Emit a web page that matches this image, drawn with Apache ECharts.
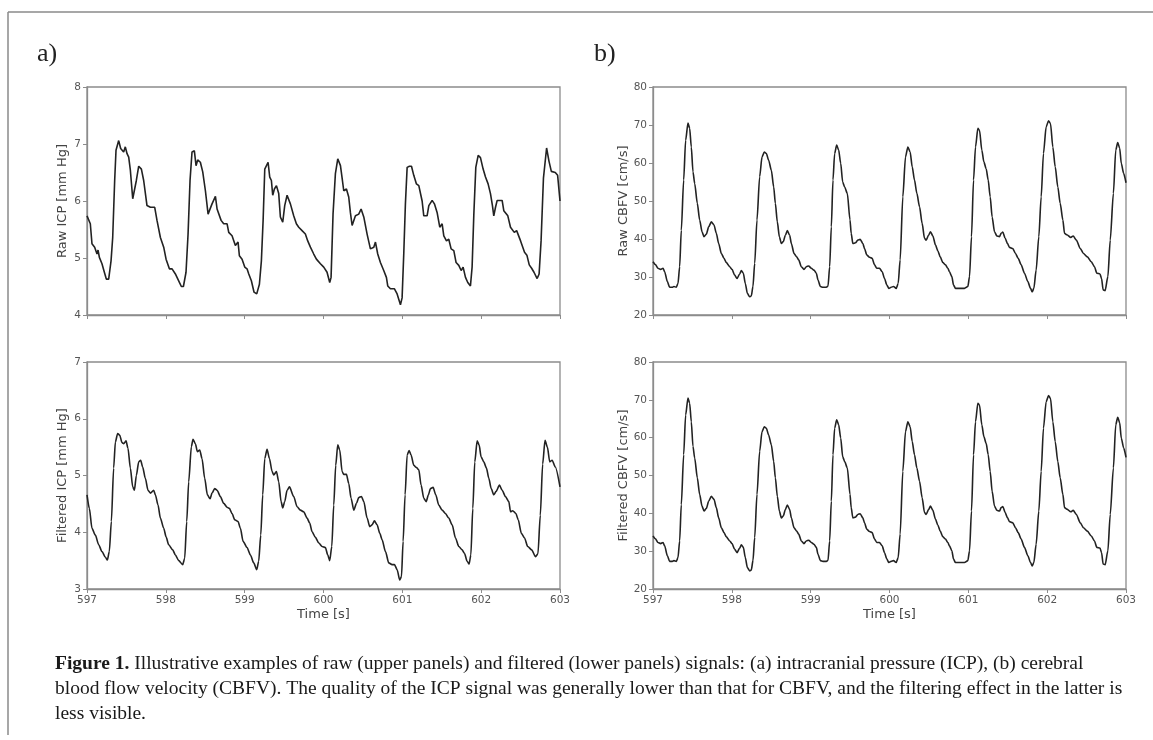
<!DOCTYPE html>
<html><head><meta charset="utf-8">
<script src="https://cdn.jsdelivr.net/npm/echarts@6/dist/echarts.min.js"></script>
<style>html,body{margin:0;padding:0;background:#fff}#c{width:1153px;height:740px}</style>
</head><body><div id="c"></div>
<script>
// ---- Data (time in s) ----
const timeRange = [597, 603];
const icpRawRange = [4, 8];
const icpFiltRange = [3, 7];
const cbfvRange = [20, 80];

const icpRawT = [597.000,597.042,597.063,597.097,597.127,597.140,597.157,597.190,597.212,597.224,597.245,597.275,597.305,597.326,597.351,597.368,597.402,597.427,597.444,597.465,597.486,597.508,597.529,597.550,597.580,597.601,597.626,597.656,597.690,597.719,597.761,597.804,597.859,597.888,597.931,597.973,598.003,598.024,598.045,598.079,598.121,598.163,598.197,598.223,598.256,598.282,598.307,598.332,598.362,598.383,598.404,598.438,598.468,598.502,598.536,598.561,598.586,598.629,598.650,598.671,598.701,598.734,598.777,598.798,598.840,598.882,598.916,598.933,598.967,599.001,599.030,599.052,599.085,599.119,599.153,599.187,599.212,599.234,599.255,599.297,599.318,599.339,599.356,599.377,599.403,599.432,599.453,599.483,599.508,599.538,599.580,599.622,599.656,599.686,599.728,599.770,599.800,599.834,599.876,599.910,599.961,600.003,600.045,600.079,600.096,600.121,600.151,600.181,600.215,600.240,600.257,600.291,600.320,600.341,600.363,600.384,600.405,600.447,600.477,600.511,600.553,600.595,600.638,600.659,600.688,600.722,600.764,600.798,600.815,600.849,600.900,600.934,600.976,600.997,601.018,601.039,601.061,601.090,601.116,601.145,601.179,601.209,601.230,601.251,601.272,601.314,601.336,601.378,601.407,601.441,601.475,601.505,601.526,601.560,601.589,601.619,601.653,601.682,601.716,601.746,601.771,601.801,601.830,601.864,601.885,601.907,601.932,601.962,601.991,602.025,602.055,602.088,602.118,602.143,602.160,602.182,602.203,602.266,602.287,602.338,602.372,602.420,602.450,602.500,602.550,602.580,602.610,602.640,602.670,602.710,602.735,602.760,602.790,602.830,602.860,602.890,602.940,602.970,603.000];
const icpRawV = [5.74,5.60,5.25,5.19,5.07,5.14,5.01,4.90,4.79,4.81,4.63,4.63,4.95,5.36,6.36,6.89,7.06,6.92,6.95,6.86,6.95,6.83,6.77,6.54,6.04,6.04,6.36,6.61,6.56,6.36,5.92,5.89,5.89,5.66,5.36,5.19,4.98,5.01,4.81,4.81,4.72,4.60,4.50,4.50,4.75,5.42,6.36,6.86,6.88,6.62,6.72,6.68,6.51,6.18,5.77,5.80,5.95,6.08,5.86,5.89,5.66,5.60,5.60,5.45,5.39,5.22,5.28,5.04,4.98,4.84,4.81,4.72,4.60,4.40,4.37,4.54,4.95,5.66,6.56,6.68,6.42,6.36,6.10,6.21,6.27,6.13,5.72,5.63,5.92,6.10,5.95,5.74,5.60,5.54,5.48,5.42,5.30,5.19,5.07,4.98,4.90,4.84,4.75,4.57,4.66,5.77,6.48,6.74,6.62,6.36,6.18,6.21,6.07,5.80,5.57,5.57,5.74,5.77,5.86,5.72,5.42,5.16,5.19,5.28,5.07,4.92,4.78,4.66,4.51,4.46,4.46,4.37,4.18,4.30,5.07,5.95,6.59,6.61,6.61,6.45,6.30,6.27,6.24,6.00,5.74,5.74,5.92,6.01,5.95,5.80,5.54,5.60,5.39,5.30,5.33,5.16,5.13,4.92,4.87,4.78,4.84,4.66,4.57,4.51,4.84,5.77,6.59,6.80,6.76,6.56,6.42,6.30,6.13,5.92,5.74,5.89,6.01,6.01,5.83,5.74,5.54,5.45,5.48,5.30,5.10,5.05,4.88,4.82,4.75,4.64,4.72,5.30,6.40,6.93,6.70,6.52,6.50,6.45,6.00];

const icpFiltT = [597.000,597.030,597.063,597.106,597.148,597.190,597.233,597.258,597.283,597.309,597.338,597.360,597.389,597.415,597.444,597.465,597.495,597.520,597.550,597.580,597.601,597.626,597.656,597.681,597.706,597.740,597.774,597.804,597.846,597.867,597.901,597.931,597.973,598.003,598.036,598.087,598.121,598.163,598.214,598.239,598.265,598.290,598.324,598.345,598.375,598.400,598.430,598.459,598.493,598.527,598.561,598.586,598.620,598.650,598.692,598.734,598.777,598.806,598.840,598.874,598.916,598.946,598.980,599.030,599.073,599.115,599.153,599.178,599.204,599.229,599.255,599.284,599.314,599.348,599.369,599.403,599.432,599.462,599.483,599.508,599.538,599.568,599.622,599.665,599.707,599.749,599.792,599.825,599.855,599.897,599.940,599.982,600.024,600.054,600.079,600.105,600.130,600.155,600.181,600.206,600.236,600.257,600.291,600.320,600.350,600.384,600.418,600.447,600.481,600.511,600.553,600.587,600.616,600.646,600.680,600.714,600.743,600.786,600.828,600.870,600.900,600.934,600.967,600.989,601.010,601.035,601.061,601.086,601.111,601.145,601.179,601.209,601.238,601.272,601.302,601.331,601.357,601.390,601.424,601.462,601.505,601.547,601.589,601.632,601.674,601.716,601.758,601.788,601.822,601.847,601.869,601.894,601.919,601.949,601.974,601.999,602.033,602.067,602.097,602.127,602.160,602.190,602.232,602.266,602.308,602.351,602.372,602.400,602.440,602.470,602.510,602.550,602.590,602.640,602.690,602.720,602.750,602.780,602.810,602.840,602.870,602.900,602.940,603.000];
const icpFiltV = [4.66,4.42,4.07,3.95,3.78,3.66,3.56,3.51,3.66,4.19,5.13,5.59,5.74,5.71,5.58,5.56,5.61,5.48,5.13,4.80,4.74,5.00,5.24,5.27,5.15,4.95,4.74,4.69,4.74,4.66,4.48,4.25,4.07,3.92,3.78,3.69,3.60,3.50,3.43,3.54,4.19,4.89,5.51,5.64,5.56,5.42,5.45,5.30,4.95,4.66,4.59,4.69,4.77,4.74,4.63,4.51,4.44,4.42,4.33,4.22,4.19,4.07,3.84,3.73,3.60,3.46,3.34,3.49,3.95,4.66,5.30,5.46,5.30,5.07,5.01,5.07,4.89,4.54,4.43,4.54,4.74,4.80,4.63,4.45,4.39,4.36,4.25,4.16,4.01,3.91,3.81,3.75,3.73,3.60,3.50,3.75,4.48,5.18,5.54,5.45,5.07,5.02,5.02,4.86,4.60,4.39,4.51,4.61,4.63,4.54,4.25,4.10,4.13,4.20,4.13,3.98,3.87,3.66,3.46,3.43,3.43,3.34,3.16,3.22,3.84,4.66,5.36,5.44,5.36,5.18,5.14,5.10,4.83,4.60,4.54,4.66,4.77,4.79,4.66,4.48,4.39,4.33,4.25,4.13,3.90,3.75,3.69,3.63,3.49,3.44,3.60,4.42,5.24,5.61,5.54,5.33,5.24,5.13,4.95,4.77,4.66,4.72,4.83,4.74,4.63,4.54,4.36,4.38,4.33,4.22,3.98,3.90,3.75,3.69,3.57,3.62,4.30,5.20,5.62,5.50,5.24,5.27,5.15,4.80];

const cbfvT = [597.000,597.030,597.063,597.097,597.127,597.148,597.182,597.211,597.245,597.266,597.296,597.317,597.338,597.359,597.389,597.414,597.444,597.465,597.486,597.507,597.529,597.562,597.592,597.622,597.647,597.677,597.706,597.740,597.774,597.803,597.833,597.867,597.901,597.930,597.973,598.002,598.036,598.066,598.099,598.121,598.146,598.171,598.197,598.226,598.247,598.268,598.290,598.319,598.353,598.383,598.412,598.438,598.467,598.501,598.531,598.552,598.577,598.603,598.628,598.653,598.679,598.704,598.734,598.755,598.789,598.822,598.848,598.882,598.915,598.945,598.975,599.008,599.042,599.072,599.093,599.123,599.156,599.199,599.220,599.241,599.262,599.283,599.304,599.330,599.355,599.381,599.406,599.431,599.465,599.499,599.514,599.535,599.569,599.598,599.628,599.662,599.683,599.712,599.746,599.780,599.810,599.839,599.873,599.907,599.937,599.966,599.992,600.021,600.051,600.085,600.110,600.135,600.169,600.203,600.233,600.262,600.288,600.317,600.347,600.381,600.414,600.444,600.465,600.495,600.520,600.550,600.584,600.613,600.643,600.677,600.710,600.740,600.761,600.791,600.812,600.837,600.888,600.951,600.994,601.015,601.040,601.066,601.091,601.121,601.142,601.171,601.197,601.226,601.252,601.277,601.302,601.332,601.362,601.395,601.416,601.438,601.467,601.497,601.522,601.564,601.598,601.632,601.670,601.712,601.755,601.789,601.810,601.831,601.860,601.894,601.924,601.953,601.987,602.017,602.042,602.072,602.102,602.135,602.165,602.199,602.220,602.250,602.300,602.330,602.370,602.420,602.460,602.510,602.560,602.600,602.630,602.670,602.690,602.710,602.735,602.770,602.800,602.840,602.870,602.895,602.920,602.940,602.970,603.000];
const cbfvV = [34.0,33.3,32.3,32.0,32.3,31.4,28.8,27.3,27.3,27.5,27.3,28.3,32.7,42.3,55.5,66.0,70.5,69.1,64.2,57.7,54.6,49.4,45.0,41.9,40.6,41.3,43.2,44.5,43.7,41.5,38.8,36.2,34.9,33.8,32.7,32.0,30.5,29.6,30.8,31.7,31.0,28.3,25.7,24.8,25.0,27.5,33.6,45.0,56.4,61.6,62.9,62.5,60.7,58.1,53.7,49.4,44.5,40.6,38.8,39.3,41.0,42.2,41.0,38.8,36.2,35.3,34.5,32.7,32.0,32.7,32.9,32.3,31.8,31.0,29.2,27.5,27.3,27.3,27.6,32.7,43.2,55.5,62.5,64.7,63.4,59.9,55.0,53.7,52.0,45.0,41.5,38.8,39.0,39.7,39.9,38.8,37.5,35.8,35.2,34.9,33.2,32.3,32.3,31.4,29.6,27.9,27.0,27.3,27.5,27.0,28.3,34.5,51.1,61.6,64.2,62.9,59.0,55.5,52.0,48.5,44.1,40.2,39.7,41.0,41.9,40.8,38.4,36.9,35.3,33.8,33.2,32.3,31.4,30.1,27.9,27.0,27.0,27.0,27.5,30.1,40.6,55.5,64.2,69.1,68.6,63.4,60.3,58.5,55.5,51.1,45.8,41.9,40.8,40.6,41.5,41.8,40.2,38.8,37.8,37.5,36.2,34.9,33.2,31.0,28.8,27.0,26.1,27.0,31.8,40.6,51.1,62.5,69.5,71.1,70.4,64.2,59.0,53.7,49.4,45.0,41.5,41.1,40.4,40.8,39.7,37.5,36.2,35.3,34.0,32.7,31.0,30.8,29.6,26.6,26.4,30.1,39.7,52.0,63.4,65.4,63.9,59.9,57.3,54.8];
// Filtered CBFV is visually identical to the raw trace in the figure
const cbfvFiltT = cbfvT;
const cbfvFiltV = cbfvV;

const panelLabels = ['a)', 'b)'];
const yNames = ['Raw ICP [mm Hg]', 'Raw CBFV [cm/s]', 'Filtered ICP [mm Hg]', 'Filtered CBFV [cm/s]'];
const xName = 'Time [s]';
const captionLines = [
  'Illustrative examples of raw (upper panels) and filtered (lower panels) signals: (a) intracranial pressure (ICP), (b) cerebral',
  'blood flow velocity (CBFV). The quality of the ICP signal was generally lower than that for CBFV, and the filtering effect in the latter is',
  'less visible.'
];
const captionLead = 'Figure 1.';

// ---- Build ----
const zip = (t, v) => t.map((x, i) => [x, v[i]]);
const AX = '#8c8c8c', TX = '#555';
const SANS = '"DejaVu Sans", sans-serif';
const SERIF = '"Liberation Serif", "DejaVu Serif", serif';
const CAP = 19.5;

const grids = [
  {left: 87, top: 87, width: 473, height: 228},
  {left: 653, top: 87, width: 473, height: 228},
  {left: 87, top: 362, width: 473, height: 227},
  {left: 653, top: 362, width: 473, height: 227}
].map(g => Object.assign(g, {show: true, borderColor: AX, borderWidth: 1.3, backgroundColor: 'transparent'}));

const xAxes = [0,1,2,3].map(i => ({
  type: 'value', gridIndex: i, min: timeRange[0], max: timeRange[1], interval: 1,
  axisLine: {show: true, lineStyle: {color: AX, width: 1.3}},
  axisTick: {show: true, inside: false, length: 4, lineStyle: {color: AX}},
  axisLabel: {show: i >= 2, color: TX, fontFamily: SANS, fontSize: 10.5, margin: 6, showMinLabel: true, showMaxLabel: true},
  splitLine: {show: false},
  name: i >= 2 ? xName : '', nameLocation: 'middle', nameGap: 19,
  nameTextStyle: {color: '#444', fontFamily: SANS, fontSize: 13}
}));

const yRanges = [icpRawRange, cbfvRange, icpFiltRange, cbfvRange];
const yAxes = [0,1,2,3].map(i => ({
  type: 'value', gridIndex: i, min: yRanges[i][0], max: yRanges[i][1], interval: i % 2 ? 10 : 1,
  axisLine: {show: true, lineStyle: {color: AX, width: 1.3}},
  axisTick: {show: true, inside: false, length: 4, lineStyle: {color: AX}},
  axisLabel: {color: TX, fontFamily: SANS, fontSize: 10.5, margin: 6, showMinLabel: true, showMaxLabel: true},
  splitLine: {show: false},
  name: yNames[i], nameLocation: 'middle', nameRotate: 90, nameGap: i % 2 ? 23 : 18,
  nameTextStyle: {color: '#444', fontFamily: SANS, fontSize: 13}
}));

const dataSets = [zip(icpRawT, icpRawV), zip(cbfvT, cbfvV), zip(icpFiltT, icpFiltV), zip(cbfvFiltT, cbfvFiltV)];
const series = dataSets.map((d, i) => ({
  type: 'line', xAxisIndex: i, yAxisIndex: i, data: d, showSymbol: false,
  smooth: i === 0 ? false : 0.25, smoothMonotone: 'x',
  lineStyle: {color: '#222', width: 1.6}, silent: true
}));

const graphic = [
  {type: 'line', shape: {x1: 8, y1: 12, x2: 1153, y2: 12}, style: {stroke: '#8a8a8a', lineWidth: 1.5}},
  {type: 'line', shape: {x1: 8, y1: 12, x2: 8, y2: 735}, style: {stroke: '#8a8a8a', lineWidth: 1.5}},
  {type: 'text', x: 37, y: 41, style: {text: panelLabels[0], font: '26px ' + SERIF, fill: '#222'}},
  {type: 'text', x: 594, y: 41, style: {text: panelLabels[1], font: '26px ' + SERIF, fill: '#222'}},
  {type: 'text', x: 55, y: 664, style: {
    text: '{b|' + captionLead + '} ' + captionLines[0], font: CAP + 'px ' + SERIF, fill: '#1a1a1a', verticalAlign: 'middle',
    rich: {b: {fontWeight: 'bold', fontFamily: SERIF, fontSize: CAP, fill: '#1a1a1a'}}}},
  {type: 'text', x: 55, y: 689, style: {text: captionLines[1], font: CAP + 'px ' + SERIF, fill: '#1a1a1a', verticalAlign: 'middle'}},
  {type: 'text', x: 55, y: 714, style: {text: captionLines[2], font: CAP + 'px ' + SERIF, fill: '#1a1a1a', verticalAlign: 'middle'}}
];

const chart = echarts.init(document.getElementById('c'), null, {renderer: 'canvas'});
chart.setOption({animation: false, backgroundColor: '#fff', grid: grids, xAxis: xAxes, yAxis: yAxes, series, graphic});
</script>
</body></html>
